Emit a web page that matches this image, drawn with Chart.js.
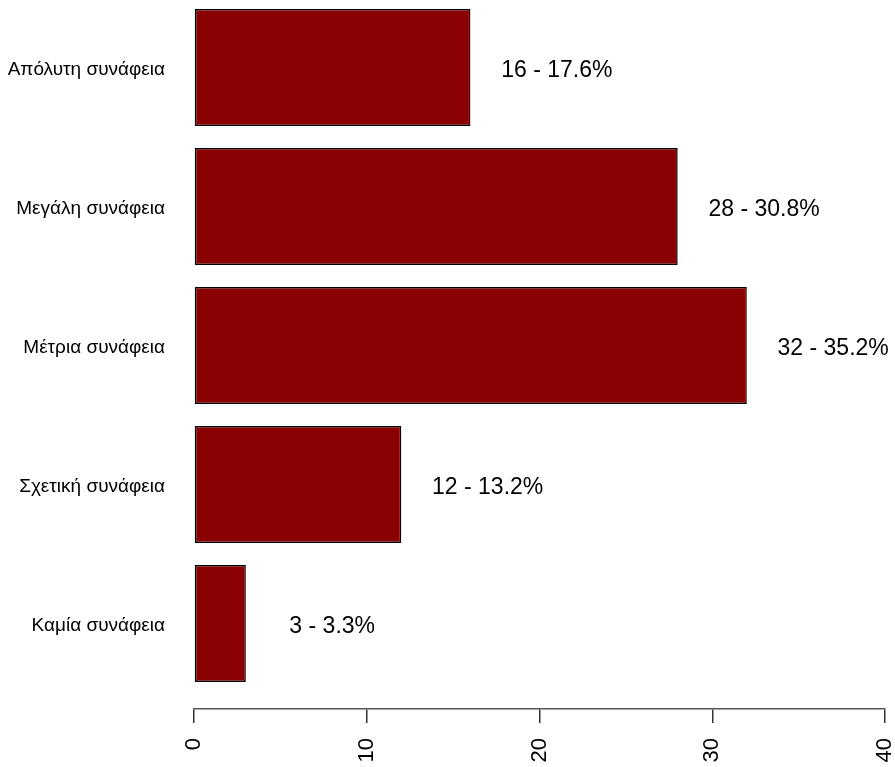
<!doctype html>
<html lang="el">
<head>
  <meta charset="utf-8">
  <title>Συνάφεια</title>
  <style>
    body {
      margin: 0;
      background-color: white;
    }
  </style>
</head>
<body>
  <canvas id="chart" width="895" height="767"></canvas>
  <script src="https://cdn.jsdelivr.net/npm/chart.js@4.4.0/dist/chart.umd.min.js"></script>
  <script>
    // categories from top to bottom
    const categories = ['Απόλυτη συνάφεια', 'Μεγάλη συνάφεια', 'Μέτρια συνάφεια', 'Σχετική συνάφεια', 'Καμία συνάφεια'];
    const counts = [16, 28, 32, 12, 3];
    const xTicks = [0, 10, 20, 30, 40];

    const total = counts.reduce((a, b) => a + b, 0);
    const labelOffset = 5; // value labels sit 5 units right of the bar end

    const valueLabels = {
      id: 'valueLabels',
      afterDatasetsDraw(chart) {
        const ctx = chart.ctx;
        const xs = chart.scales.x;
        const meta = chart.getDatasetMeta(0);
        ctx.save();
        ctx.font = '23px "Liberation Sans", Arial, sans-serif';
        ctx.fillStyle = '#000';
        ctx.textAlign = 'center';
        ctx.textBaseline = 'middle';
        meta.data.forEach((bar, i) => {
          const v = counts[i];
          const pct = (v / total * 100).toFixed(1);
          ctx.fillText(v + ' - ' + pct + '%', xs.getPixelForValue(v + labelOffset), bar.y + 3);
        });
        ctx.restore();
      }
    };

    new Chart(document.getElementById('chart'), {
      type: 'bar',
      data: {
        datasets: [{
          data: counts.map((v, i) => ({ x: v, y: i + 1 })),
          backgroundColor: '#8b0000',
          borderColor: '#000',
          borderWidth: 1.5,
          borderSkipped: false,
          inflateAmount: 0,
          categoryPercentage: 1,
          barPercentage: 0.842
        }]
      },
      options: {
        indexAxis: 'y',
        responsive: false,
        animation: false,
        layout: { padding: { top: 0, right: 10, left: 0, bottom: 0 } },
        plugins: {
          legend: { display: false },
          tooltip: { enabled: false }
        },
        scales: {
          y: {
            type: 'linear',
            reverse: true,
            offset: false,
            min: 0.514,
            max: 5.615,
            afterBuildTicks: axis => {
              axis.ticks = categories.map((c, i) => ({ value: i + 1 }));
            },
            afterFit: axis => {
              axis.width = 194;
              axis.paddingTop = 0;
              axis.paddingBottom = 0;
            },
            grid: { display: false, drawTicks: false, offset: false },
            border: { display: false },
            ticks: {
              padding: 29,
              labelOffset: 2,
              color: '#000',
              font: { family: '"Liberation Sans", Arial, sans-serif', size: 19 },
              callback: v => categories[v - 1] || ''
            }
          },
          x: {
            type: 'linear',
            min: xTicks[0],
            max: xTicks[xTicks.length - 1],
            afterBuildTicks: axis => {
              axis.ticks = xTicks.map(v => ({ value: v }));
            },
            afterFit: axis => {
              axis.height = 58;
              axis.paddingLeft = 0;
              axis.paddingRight = 0;
            },
            grid: {
              display: true,
              drawOnChartArea: false,
              drawTicks: true,
              tickLength: 14,
              color: '#333',
              lineWidth: 1.5
            },
            border: { display: true, color: '#555', width: 1.5 },
            ticks: {
              padding: 15,
              minRotation: 90,
              maxRotation: 90,
              color: '#000',
              font: { family: '"Liberation Sans", Arial, sans-serif', size: 22 }
            }
          }
        }
      },
      plugins: [valueLabels]
    });
  </script>
</body>
</html>
